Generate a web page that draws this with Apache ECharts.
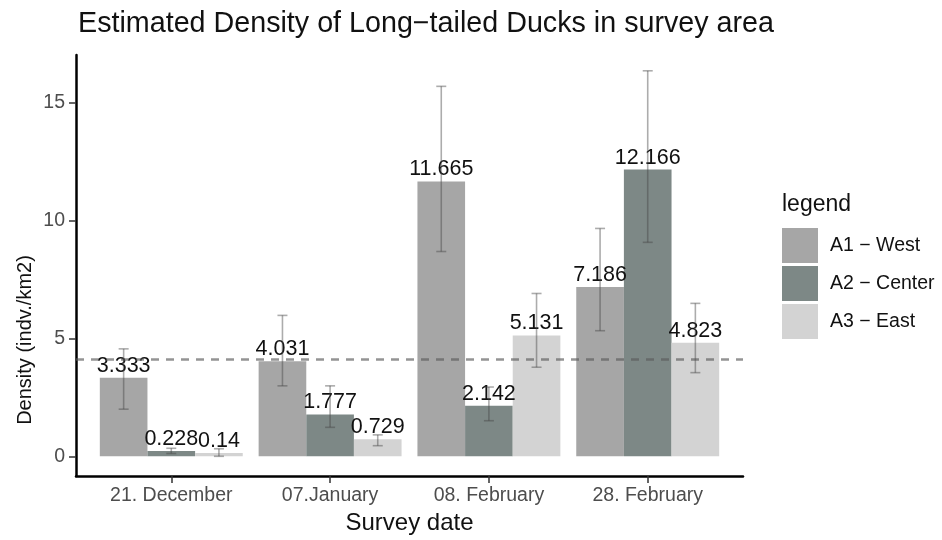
<!DOCTYPE html>
<html>
<head>
<meta charset="utf-8">
<script src="https://cdn.jsdelivr.net/npm/echarts@6/dist/echarts.min.js"></script>
<style>html,body{margin:0;padding:0;background:#fff}#chart{width:942px;height:540px}</style>
</head>
<body>
<div id="chart"></div>
<script>
// survey dates and areas
const dates = ['21. December', '07.January', '08. February', '28. February'];
const areas = ['A1 − West', 'A2 − Center', 'A3 − East'];

// density per area (indv./km2)
const densWest = [3.333, 4.031, 11.665, 7.186];
const densCenter = [0.228, 1.777, 2.142, 12.166];
const densEast = [0.14, 0.729, 5.131, 4.823];

// error bars
const lowWest = [2.0, 2.99, 8.69, 5.33];
const highWest = [4.56, 5.98, 15.70, 9.67];
const lowCenter = [0.12, 1.23, 1.51, 9.08];
const highCenter = [0.34, 2.99, 2.94, 16.36];
const lowEast = [0.0, 0.45, 3.78, 3.55];
const highEast = [0.32, 0.91, 6.91, 6.49];

const overallMean = 4.13;
const yTicks = [0, 5, 10, 15];

const areaColors = ['#a6a6a6', '#7d8886', '#d3d3d3'];
const font = '"Liberation Sans", Arial, sans-serif';

const density = [densWest, densCenter, densEast];
const low = [lowWest, lowCenter, lowEast];
const high = [highWest, highCenter, highEast];

const barSeries = areas.map((name, s) => ({
  name: name,
  type: 'bar',
  barGap: '0%',
  barCategoryGap: '10%',
  itemStyle: { color: areaColors[s] },
  data: density[s].map((v, i) => [i, v]),
  label: {
    show: true, position: 'top', distance: 1,
    fontSize: 21.5, color: '#111', fontFamily: font,
    formatter: p => String(p.value[1])
  },
  z: 2
}));
// dashed reference line
barSeries[0].markLine = {
  silent: true, symbol: 'none', label: { show: false },
  lineStyle: { color: 'rgba(90,90,90,0.65)', width: 2.5, type: [8, 7] },
  data: [{ yAxis: overallMean }]
};

const errData = [];
areas.forEach((a, s) => dates.forEach((d, i) => errData.push([i, s, low[s][i], high[s][i]])));

const errSeries = {
  type: 'custom',
  name: 'ci',
  z: 5,
  silent: true,
  encode: { x: 0, y: [2, 3] },
  data: errData,
  renderItem(params, api) {
    // 3 bars share 90% of each date slot
    const slot = api.value(0) + (api.value(1) - 1) * 0.3;
    const lo = api.coord([slot, api.value(2)]);
    const hi = api.coord([slot, api.value(3)]);
    const cap = 5;
    const style = { stroke: 'rgba(70,70,70,0.45)', lineWidth: 1.6 };
    return {
      type: 'group',
      children: [
        { type: 'line', shape: { x1: lo[0], y1: lo[1], x2: hi[0], y2: hi[1] }, style: style },
        { type: 'line', shape: { x1: lo[0] - cap, y1: lo[1], x2: lo[0] + cap, y2: lo[1] }, style: style },
        { type: 'line', shape: { x1: hi[0] - cap, y1: hi[1], x2: hi[0] + cap, y2: hi[1] }, style: style }
      ]
    };
  }
};

const chart = echarts.init(document.getElementById('chart'));
chart.setOption({
  animation: false,
  backgroundColor: '#fff',
  title: [
    {
      text: 'Estimated Density of Long−tailed Ducks in survey area',
      left: 78, top: 10, padding: 0,
      textStyle: { fontSize: 28.7, fontWeight: 'normal', color: '#111', fontFamily: font }
    },
    {
      text: 'legend',
      left: 782, top: 193, padding: 0,
      textStyle: { fontSize: 23, fontWeight: 'normal', color: '#111', fontFamily: font }
    }
  ],
  legend: {
    data: areas,
    orient: 'vertical',
    left: 782, top: 228,
    padding: 0,
    itemWidth: 36, itemHeight: 35, itemGap: 3,
    icon: 'rect',
    selectedMode: false,
    textStyle: { fontSize: 19.5, color: '#111', fontFamily: font, padding: [0, 0, 0, 7] }
  },
  grid: { left: 76, right: 199, top: 55, bottom: 60 },
  xAxis: {
    type: 'value', min: -0.6, max: 3.6,
    splitLine: { show: false },
    axisLine: { show: true, onZero: false, lineStyle: { color: '#000', width: 2.5 } },
    axisTick: { show: true, customValues: dates.map((d, i) => i), length: 7, lineStyle: { color: '#333', width: 1.5 } },
    axisLabel: {
      customValues: dates.map((d, i) => i),
      formatter: v => dates[v],
      fontSize: 19.5, color: '#4d4d4d', margin: 10, fontFamily: font
    },
    name: 'Survey date', nameLocation: 'middle', nameGap: 30,
    nameTextStyle: { fontSize: 24, color: '#111', fontFamily: font }
  },
  yAxis: {
    type: 'value', min: -0.84, max: 17.03,
    splitLine: { show: false },
    axisLine: { show: true, onZero: false, lineStyle: { color: '#000', width: 2.5 } },
    axisTick: { show: true, customValues: yTicks, length: 7, lineStyle: { color: '#333', width: 1.5 } },
    axisLabel: { customValues: yTicks, fontSize: 19.5, color: '#4d4d4d', margin: 11, fontFamily: font }
  },
  graphic: [{
    type: 'text',
    x: 25, y: 340,
    rotation: Math.PI / 2,
    style: {
      text: 'Density (indv./km2)',
      fontSize: 20, fill: '#111', fontFamily: font,
      textAlign: 'center', textVerticalAlign: 'middle'
    }
  }],
  series: barSeries.concat([errSeries])
});
</script>
</body>
</html>
